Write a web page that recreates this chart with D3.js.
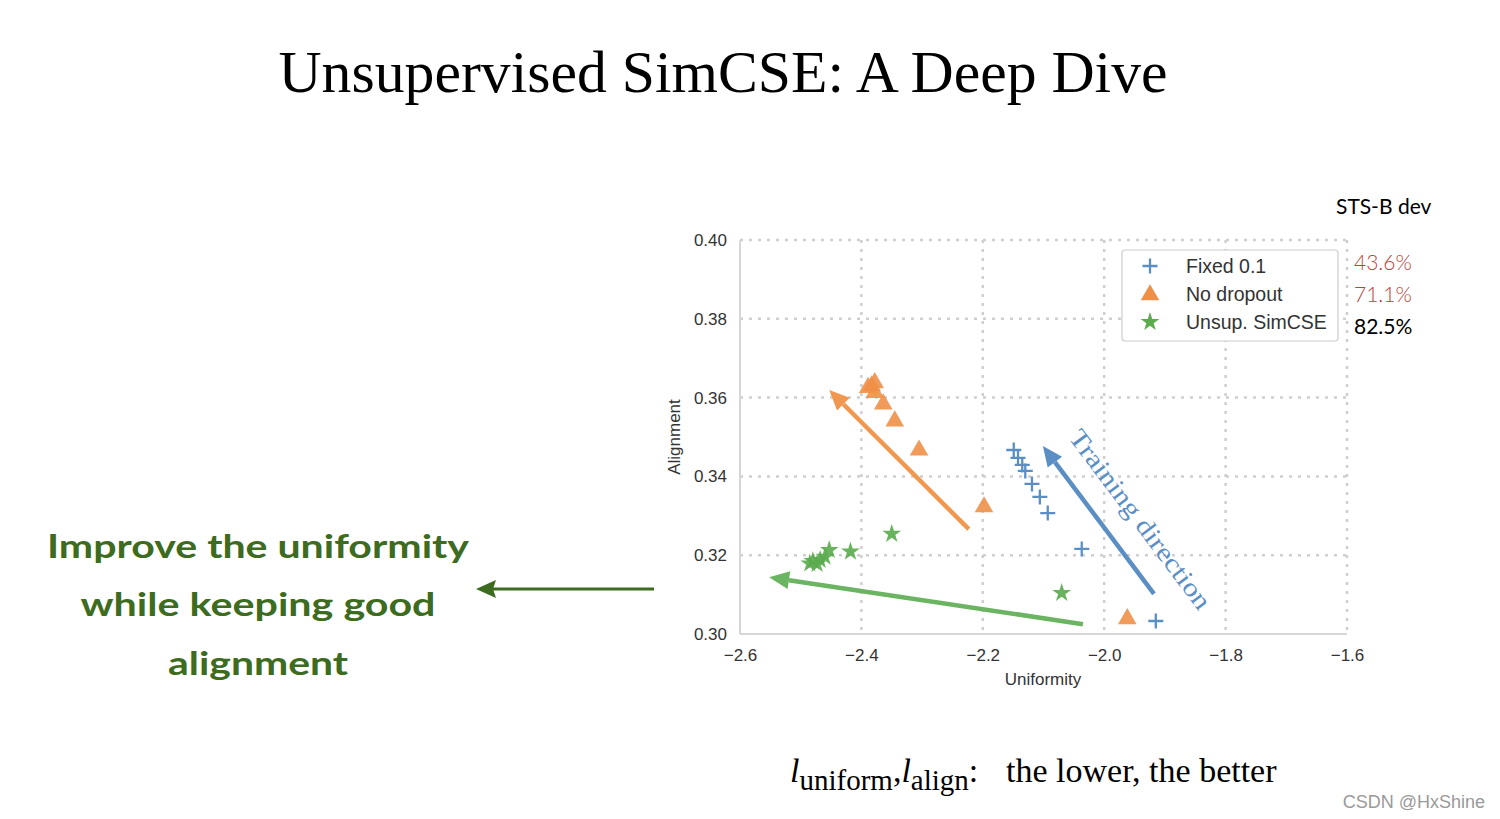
<!DOCTYPE html>
<html>
<head>
<meta charset="utf-8">
<script src="https://cdn.jsdelivr.net/npm/d3@7/dist/d3.min.js"></script>
<style>
  html, body { margin: 0; padding: 0; background: #fff; }
  svg { display: block; }
</style>
</head>
<body>
<svg id="chart" width="1500" height="819"></svg>
<script>
// ---------- DATA ----------
const xTicks = [-2.6, -2.4, -2.2, -2.0, -1.8, -1.6];
const yTicks = [0.30, 0.32, 0.34, 0.36, 0.38, 0.40];

const fixedX = [-2.149, -2.142, -2.135, -2.130, -2.119, -2.106, -2.093, -2.037, -1.915];
const fixedY = [0.3467, 0.3447, 0.3429, 0.3414, 0.3381, 0.3348, 0.3307, 0.3216, 0.3033];

const noDropX = [-2.383, -2.378, -2.389, -2.378, -2.364, -2.345, -2.305, -2.198, -1.962];
const noDropY = [0.3632, 0.3640, 0.3628, 0.3615, 0.3586, 0.3543, 0.3469, 0.3325, 0.3041];

const simcseX = [-2.485, -2.480, -2.473, -2.468, -2.460, -2.453, -2.418, -2.350, -2.070];
const simcseY = [0.3179, 0.3185, 0.3178, 0.3188, 0.3196, 0.3213, 0.3209, 0.3254, 0.3104];

const seriesNames = ["Fixed 0.1", "No dropout", "Unsup. SimCSE"];
const stsScores = ["43.6%", "71.1%", "82.5%"];

// arrows: [x0, y0, x1(tip), y1(tip)]
const arrowOrange = [-2.223, 0.3266, -2.453, 0.3619];
const arrowBlue = [-1.918, 0.3102, -2.101, 0.3477];
const arrowGreen = [-2.035, 0.3025, -2.552, 0.3144];

const noteLines = ["Improve the uniformity", "while keeping good", "alignment"];

// ---------- STYLE ----------
const cBlue = "#5b8fc4", cOrange = "#ef9048", cGreen = "#5aab4c";
const cBlueArr = "#5b8fc4", cOrangeArr = "#f0984f", cGreenArr = "#6ab462";
const hand = "#3d6b20";
const axisFont = "Liberation Sans, Arial, sans-serif";

const svg = d3.select("#chart");
const x = d3.scaleLinear().domain([-2.6, -1.6]).range([740, 1347]);
const y = d3.scaleLinear().domain([0.30, 0.40]).range([634, 240]);

// Title
svg.append("text").attr("x", 723).attr("y", 92).attr("text-anchor", "middle")
  .attr("font-family", "Liberation Serif, DejaVu Serif, serif").attr("font-size", 60)
  .attr("textLength", 889).attr("lengthAdjust", "spacingAndGlyphs")
  .attr("fill", "#000").text("Unsupervised SimCSE: A Deep Dive");

// Grid
const grid = svg.append("g");
xTicks.slice(1).forEach(t => {
  grid.append("line").attr("x1", x(t)).attr("x2", x(t)).attr("y1", y(0.40)).attr("y2", y(0.30))
    .attr("stroke", "#cfcfcf").attr("stroke-width", 2.5).attr("stroke-dasharray", "3,6");
});
yTicks.slice(1).forEach(t => {
  grid.append("line").attr("x1", x(-2.6)).attr("x2", x(-1.6)).attr("y1", y(t)).attr("y2", y(t))
    .attr("stroke", "#cfcfcf").attr("stroke-width", 2.5).attr("stroke-dasharray", "3,6");
});
// spines (left, bottom)
svg.append("line").attr("x1", x(-2.6)).attr("x2", x(-2.6)).attr("y1", y(0.40)).attr("y2", y(0.30))
  .attr("stroke", "#d6d6d6").attr("stroke-width", 2);
svg.append("line").attr("x1", x(-2.6)).attr("x2", x(-1.6)).attr("y1", y(0.30)).attr("y2", y(0.30))
  .attr("stroke", "#d6d6d6").attr("stroke-width", 2);

// Axes
const fmtX = d => d3.format(".1f")(d).replace("-", "\u2212");
const xAxis = svg.append("g").attr("transform", `translate(0,${y(0.30)})`)
  .call(d3.axisBottom(x).tickValues(xTicks).tickSize(0).tickPadding(15).tickFormat(fmtX));
const yAxis = svg.append("g").attr("transform", `translate(${x(-2.6)},0)`)
  .call(d3.axisLeft(y).tickValues(yTicks).tickSize(0).tickPadding(13).tickFormat(d3.format(".2f")));
[xAxis, yAxis].forEach(a => {
  a.select(".domain").remove();
  a.selectAll("text").attr("font-family", axisFont)
    .attr("font-size", 17).attr("fill", "#333");
});
svg.append("text").attr("x", 1043).attr("y", 685).attr("text-anchor", "middle")
  .attr("font-family", axisFont).attr("font-size", 17).attr("fill", "#333")
  .text("Uniformity");
svg.append("text").attr("transform", "translate(680,437) rotate(-90)").attr("text-anchor", "middle")
  .attr("font-family", axisFont).attr("font-size", 17).attr("fill", "#333")
  .text("Alignment");

// Arrows
function arrow(a, color) {
  const x0 = x(a[0]), y0 = y(a[1]), x1 = x(a[2]), y1 = y(a[3]);
  const ang = Math.atan2(y1 - y0, x1 - x0);
  const L = 20, W = 9;
  const bx = x1 - L * Math.cos(ang), by = y1 - L * Math.sin(ang);
  svg.append("line").attr("x1", x0).attr("y1", y0).attr("x2", bx).attr("y2", by)
    .attr("stroke", color).attr("stroke-width", 4.5);
  const px = -Math.sin(ang), py = Math.cos(ang);
  svg.append("path")
    .attr("d", `M${x1},${y1} L${bx + W * px},${by + W * py} L${bx - W * px},${by - W * py} Z`)
    .attr("fill", color);
}
arrow(arrowOrange, cOrangeArr);
arrow(arrowBlue, cBlueArr);
arrow(arrowGreen, cGreenArr);

// Markers
const triPath = d3.symbol().type(d3.symbolTriangle).size(150)();
const starPath = d3.symbol().type(d3.symbolStar).size(110)();
function plus(g, cx, cy, s) {
  g.append("path").attr("d", `M${cx - s},${cy} H${cx + s} M${cx},${cy - s} V${cy + s}`)
    .attr("stroke", cBlue).attr("stroke-width", 2.3).attr("fill", "none");
}
const marks = svg.append("g");
noDropX.forEach((v, i) => {
  marks.append("path").attr("d", triPath).attr("transform", `translate(${x(v)},${y(noDropY[i]) + 1})`)
    .attr("fill", cOrange).attr("fill-opacity", 0.9);
});
simcseX.forEach((v, i) => {
  marks.append("path").attr("d", starPath).attr("transform", `translate(${x(v)},${y(simcseY[i])})`)
    .attr("fill", cGreen).attr("fill-opacity", 0.9);
});
fixedX.forEach((v, i) => plus(marks, x(v), y(fixedY[i]), 7.5));

// Training direction text
svg.append("text").attr("transform", "translate(1138,521) rotate(53)").attr("text-anchor", "middle")
  .attr("dominant-baseline", "middle")
  .attr("font-family", "Liberation Serif, DejaVu Serif, serif").attr("font-size", 26).attr("fill", cBlue)
  .attr("textLength", 218).attr("lengthAdjust", "spacingAndGlyphs")
  .text("Training direction");

// Legend
const lg = svg.append("g");
lg.append("rect").attr("x", 1122).attr("y", 250).attr("width", 216).attr("height", 91).attr("rx", 3)
  .attr("fill", "#fff").attr("stroke", "#cccccc").attr("stroke-width", 1.2);
const ly = [266, 294, 322];
seriesNames.forEach((n, i) => {
  lg.append("text").attr("x", 1186).attr("y", ly[i]).attr("dominant-baseline", "central")
    .attr("font-family", axisFont).attr("font-size", 19.5).attr("fill", "#333").text(n);
});
plus(lg, 1150, ly[0], 7.5);
lg.append("path").attr("d", triPath).attr("transform", `translate(1150,${ly[1] + 1})`).attr("fill", cOrange);
lg.append("path").attr("d", starPath).attr("transform", `translate(1150,${ly[2]})`).attr("fill", cGreen);

// STS-B dev
svg.append("text").attr("x", 1336).attr("y", 214)
  .attr("font-family", "Lato, Noto Sans, sans-serif").attr("font-size", 21).attr("fill", "#000").text("STS-B dev");
stsScores.forEach((s, i) => {
  svg.append("text").attr("x", 1354).attr("y", [261, 293, 325][i]).attr("dominant-baseline", "central")
    .attr("font-family", "Lato, Noto Sans, sans-serif").attr("font-size", 21)
    .attr("font-weight", i === 2 ? 400 : 300)
    .attr("fill", i < 2 ? "#b8423c" : "#000").text(s);
});

// Left handwritten note
const noteY = [545, 603, 662];
const noteW = [422, 355, 180];
noteLines.forEach((t, i) => {
  svg.append("text").attr("x", 258).attr("y", noteY[i]).attr("text-anchor", "middle")
    .attr("dominant-baseline", "central")
    .attr("font-family", "Lato, Noto Sans, sans-serif").attr("font-size", 33).attr("font-weight", 700)
    .attr("textLength", noteW[i]).attr("lengthAdjust", "spacingAndGlyphs")
    .attr("fill", hand).text(t);
});
// hand-drawn arrow
svg.append("line").attr("x1", 654).attr("x2", 490).attr("y1", 589).attr("y2", 589)
  .attr("stroke", hand).attr("stroke-width", 3);
svg.append("path").attr("d", "M476,589 L496,580 L493,589 L496,598 Z").attr("fill", hand);

// Bottom formula
const bt = svg.append("text").attr("x", 790).attr("y", 782)
  .attr("font-family", "Liberation Serif, DejaVu Serif, serif").attr("font-size", 34).attr("fill", "#000");
bt.append("tspan").attr("font-style", "italic").text("l");
bt.append("tspan").attr("dy", 8).attr("font-size", 29).text("uniform");
bt.append("tspan").attr("dy", -8).text(",");
bt.append("tspan").attr("font-style", "italic").text("l");
bt.append("tspan").attr("dy", 8).attr("font-size", 29).text("align");
bt.append("tspan").attr("dy", -8).text(":");
bt.append("tspan").attr("x", 1006).text("the lower, the better");

// watermark
svg.append("text").attr("x", 1485).attr("y", 808).attr("text-anchor", "end")
  .attr("font-family", "Liberation Sans Narrow, Liberation Sans, sans-serif").attr("font-size", 18)
  .attr("fill", "#9a9a9a").text("CSDN @HxShine");
</script>
</body>
</html>
